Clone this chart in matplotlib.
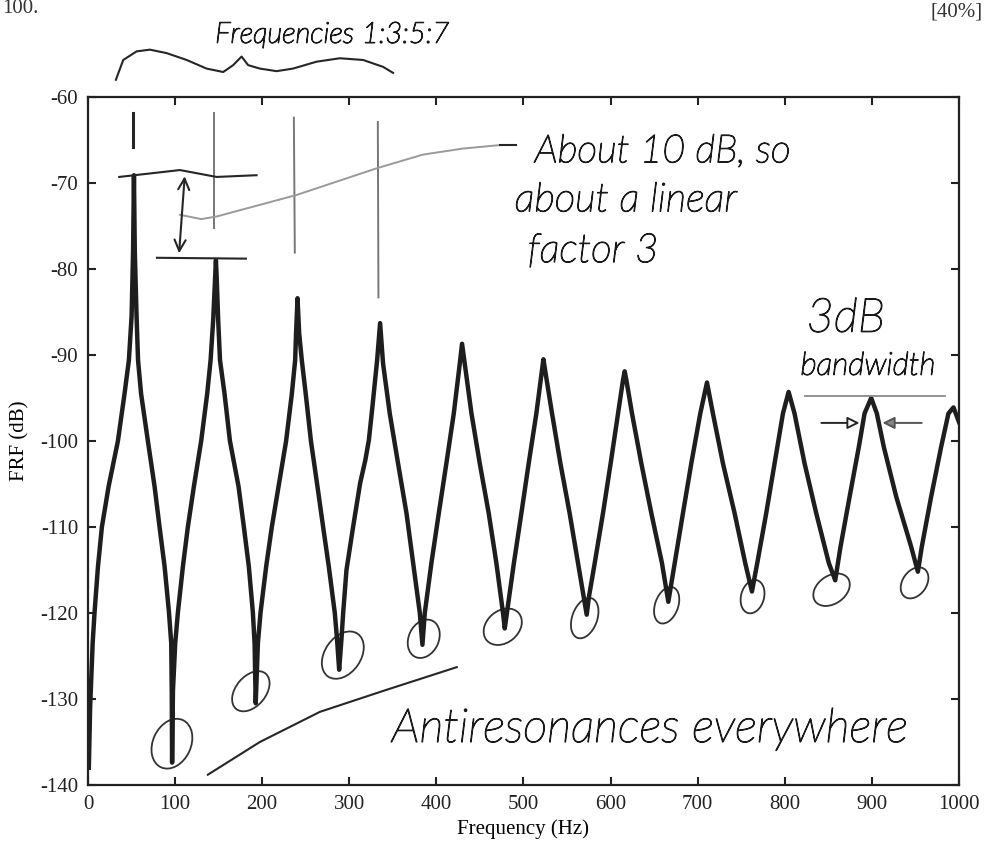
import matplotlib
matplotlib.use("Agg")
import matplotlib.pyplot as plt
import matplotlib.patheffects as pe
from matplotlib.patches import Ellipse
from matplotlib.transforms import ScaledTranslation

# FRF curve (Hz, dB)
freq_hz = [
    1.0, 2.5, 4.0, 5.4, 7.6, 11.5, 16.0, 23.7, 34.4, 42.0, 47.0, 50.1, 51.8,
    52.8,
    53.8, 55.8, 57.5, 61.0, 68.8, 76.5, 82.2, 88.0, 93.0, 95.6, 96.2,
    96.6,
    97.6, 100.2, 103.3, 109.0, 114.7, 121.6, 130.0, 136.9, 140.8, 143.8, 146.0,
    146.9,
    147.8, 149.5, 151.6, 156.8, 163.0, 172.9, 179.0, 184.7, 189.3, 191.3,
    192.6,
    195.1, 198.2, 204.6, 211.1, 218.8, 227.5, 234.1, 237.9, 238.9,
    240.6,
    242.5, 245.5, 250.0, 256.0, 263.5, 270.0, 276.5, 283.4, 286.0,
    288.4,
    291.0, 293.0, 296.8, 304.4, 312.5, 318.5, 322.5, 326.2, 332.0,
    335.4,
    338.8, 346.5, 356.0, 365.7, 373.4, 381.0,
    384.0,
    386.7, 394.3, 402.8, 411.5, 420.0, 426.9,
    429.5,
    432.6, 440.3, 449.8, 460.1, 468.9, 476.5,
    478.5,
    481.0, 489.0, 497.6, 506.0, 514.8, 521.0,
    522.9,
    525.2, 532.8, 542.4, 553.0, 562.6, 568.5,
    572.6,
    575.2, 581.8, 591.3, 600.1, 608.6, 614.3,
    616.2,
    618.1, 624.6, 635.3, 646.8, 659.0,
    666.3,
    673.6, 683.1, 692.7, 703.0,
    710.7,
    717.5, 729.0, 742.4, 754.6,
    762.3,
    768.4, 778.7, 788.3, 797.9,
    804.4,
    811.2, 822.7, 836.1, 850.6,
    857.9,
    864.0, 874.4, 885.0, 891.6,
    899.2,
    905.7, 913.7, 928.0, 945.1,
    952.8,
    957.3, 968.0, 979.5, 987.9,
    993.7,
    1000.0,
]
frf_db = [
    -138.0, -131.0, -127.0, -123.5, -119.9, -114.6, -110.0, -105.3, -100.0, -94.5, -90.6, -85.5, -78.0,
    -69.1,
    -78.0, -85.5, -90.6, -94.5, -100.0, -105.3, -110.0, -114.6, -119.9, -123.5, -129.0,
    -137.4,
    -129.0, -123.5, -119.9, -114.6, -110.0, -105.3, -100.0, -94.5, -90.6, -85.9, -81.0,
    -79.0,
    -81.0, -85.9, -90.6, -94.5, -100.0, -105.3, -110.0, -114.6, -119.9, -123.5,
    -130.5,
    -123.5, -119.9, -114.6, -110.0, -105.3, -100.0, -94.5, -90.6, -87.5,
    -83.4,
    -87.5, -90.6, -94.5, -100.0, -105.3, -110.0, -114.6, -120.0, -123.1,
    -126.6,
    -123.1, -120.0, -115.0, -110.0, -104.9, -102.2, -99.9, -96.4, -90.6,
    -86.3,
    -91.0, -96.8, -102.6, -108.4, -114.2, -120.0,
    -123.7,
    -120.0, -114.2, -108.4, -102.6, -96.8, -91.0,
    -88.7,
    -91.0, -96.8, -102.6, -108.4, -114.2, -120.0,
    -121.8,
    -120.0, -114.2, -108.4, -102.6, -96.8, -92.0,
    -90.5,
    -92.0, -96.8, -102.6, -108.4, -114.2, -117.8,
    -120.2,
    -118.1, -114.2, -108.4, -102.6, -96.8, -92.9,
    -91.9,
    -92.9, -96.8, -102.6, -108.4, -114.2,
    -118.7,
    -114.2, -108.4, -102.6, -96.8,
    -93.2,
    -96.8, -102.6, -108.4, -114.2,
    -117.5,
    -114.2, -108.4, -102.6, -96.8,
    -94.3,
    -96.8, -102.6, -108.4, -114.2,
    -116.2,
    -112.3, -106.5, -100.7, -96.8,
    -95.0,
    -96.8, -100.7, -106.5, -112.3,
    -115.2,
    -112.3, -106.5, -100.7, -96.8,
    -96.1,
    -97.8,
]

x_ticks = [0, 100, 200, 300, 400, 500, 600, 700, 800, 900, 1000]
y_ticks = [-140, -130, -120, -110, -100, -90, -80, -70, -60]

# hand drawn circles round the antiresonances: centre (Hz, dB), size (px), tilt (deg)
circle_freq = [96.4, 187.0, 292.6, 385.5, 476.2, 570.3, 664.4, 763.0, 853.7, 949.0]
circle_db = [-135.2, -129.1, -124.9, -123.0, -121.6, -120.6, -119.1, -118.1, -117.3, -116.5]
circle_w = [52, 46, 52, 40, 42, 42, 38, 34, 40, 34]
circle_h = [38, 30, 36, 30, 32, 25, 23, 23, 28, 24]
circle_tilt = [65, 50, 55, 65, 40, 70, 70, 75, 35, 55]

plt.rcParams['font.family'] = ['Liberation Serif', 'DejaVu Serif']
plt.rcParams['axes.unicode_minus'] = False

# thin pen strokes for the handwriting
pen = [pe.withStroke(linewidth=0.9, foreground='#1a1a1a')]
hand = dict(family=['Lato', 'DejaVu Sans'], style='italic', weight='light',
            color='#1a1a1a', path_effects=pen)
ink = '#262626'

fig = plt.figure(figsize=(9.86, 8.49), dpi=100)
ax = fig.add_axes([0.0892, 0.0754, 0.8834, 0.8104])

ax.plot(freq_hz, frf_db, color='#1e1e1e', lw=3.2, solid_joinstyle='round')

ax.set_xlim(0, 1000)
ax.set_ylim(-140, -60)
ax.set_xticks(x_ticks)
ax.set_yticks(y_ticks)
ax.tick_params(direction='in', top=True, right=True, length=6, width=1.5,
               labelsize=15, pad=7, colors='#222')
for s in ax.spines.values():
    s.set_linewidth(1.6)
    s.set_color('#222')
ax.set_xlabel('Frequency (Hz)', fontsize=15, labelpad=4)
ax.set_ylabel('FRF (dB)', fontsize=15, labelpad=8)

# ---- handwritten notes ----
# brace over the first four peaks
brace_f = [32.1, 40.5, 55.9, 71.1, 90.3, 113.3, 136.2, 155.3, 166.7, 176.4, 183.9,
           197.4, 216.5, 235.5, 262.4, 289.2, 315.9, 338.8, 350.3]
brace_db = [-58.0, -55.7, -54.7, -54.5, -54.9, -55.7, -56.7, -57.1, -56.3, -55.3, -56.3,
            -56.7, -57.0, -56.7, -55.9, -55.5, -55.7, -56.5, -57.2]
ax.plot(brace_f, brace_db, color=ink, lw=1.5, clip_on=False)
ax.text(146, -53.7, 'Frequencies 1:3:5:7', fontsize=21, clip_on=False, **hand)

# marks over peaks 1-4
ax.plot([51.6, 51.6], [-61.9, -65.8], color=ink, lw=2.2)
ax.plot([144.6, 144.6], [-61.9, -75.2], color='#777', lw=1.4)
ax.plot([236.4, 237.5], [-62.4, -78.1], color='#777', lw=1.4)
ax.plot([332.8, 333.5], [-62.9, -83.3], color='#777', lw=1.4)

# 10 dB step between first two peaks
ax.plot([35.9, 105.6, 147.7, 193.6], [-69.3, -68.5, -69.3, -69.1], color=ink, lw=1.5)
ax.plot([79.2, 181.3], [-78.7, -78.8], color=ink, lw=1.5)
ax.annotate('', xy=(111.3, -68.9), xytext=(104.4, -78.5),
            arrowprops=dict(arrowstyle='<->', color=ink, lw=1.5, mutation_scale=20))
ax.plot([105.6, 130.0, 147.7, 239.4, 331.3, 384.7, 430.6, 472.7],
        [-73.7, -74.2, -73.9, -71.4, -68.3, -66.7, -66.0, -65.6], color='#9a9a9a', lw=1.4)
ax.plot([472.7, 492.0], [-65.6, -65.6], color=ink, lw=1.5)
ax.text(513, -67.6, 'About 10 dB, so', fontsize=28, **hand)
ax.text(490, -73.3, 'about a linear', fontsize=29, **hand)
ax.text(505, -79.2, 'factor 3', fontsize=29, **hand)

# 3 dB bandwidth
ax.text(825, -87.3, '3dB', fontsize=34, **hand)
ax.text(818, -92.3, 'bandwidth', fontsize=23, **hand)
ax.plot([822.7, 983.4], [-94.8, -94.8], color='#8a8a8a', lw=1.3)
ax.annotate('', xy=(889, -97.9), xytext=(838.8, -97.9),
            arrowprops=dict(arrowstyle='-|>', fc='white', ec=ink, lw=1.4, mutation_scale=18))
ax.annotate('', xy=(909, -97.9), xytext=(960.4, -97.9),
            arrowprops=dict(arrowstyle='-|>', fc='#888', ec='#555', lw=1.4, mutation_scale=18))

# antiresonances
for cf, cd, w, h, a in zip(circle_freq, circle_db, circle_w, circle_h, circle_tilt):
    tr = fig.dpi_scale_trans + ScaledTranslation(cf, cd, ax.transData)
    ax.add_patch(Ellipse((0, 0), w / 100, h / 100, angle=a, transform=tr,
                         fill=False, ec='#333', lw=1.3))
ax.plot([137.7, 197.4, 266.2, 340.8, 423.4], [-138.8, -135.0, -131.5, -129.0, -126.3],
        color=ink, lw=1.5)
ax.text(348.8, -135.0, 'Antiresonances everywhere', fontsize=34, **hand)

fig.text(930 / 986, 1 - 17 / 849, '[40%]', fontsize=15, color='#333')
fig.text(2 / 986, 1 - 13 / 849, '100.', fontsize=15, color='#333')

fig.savefig('out.png', dpi=100)
